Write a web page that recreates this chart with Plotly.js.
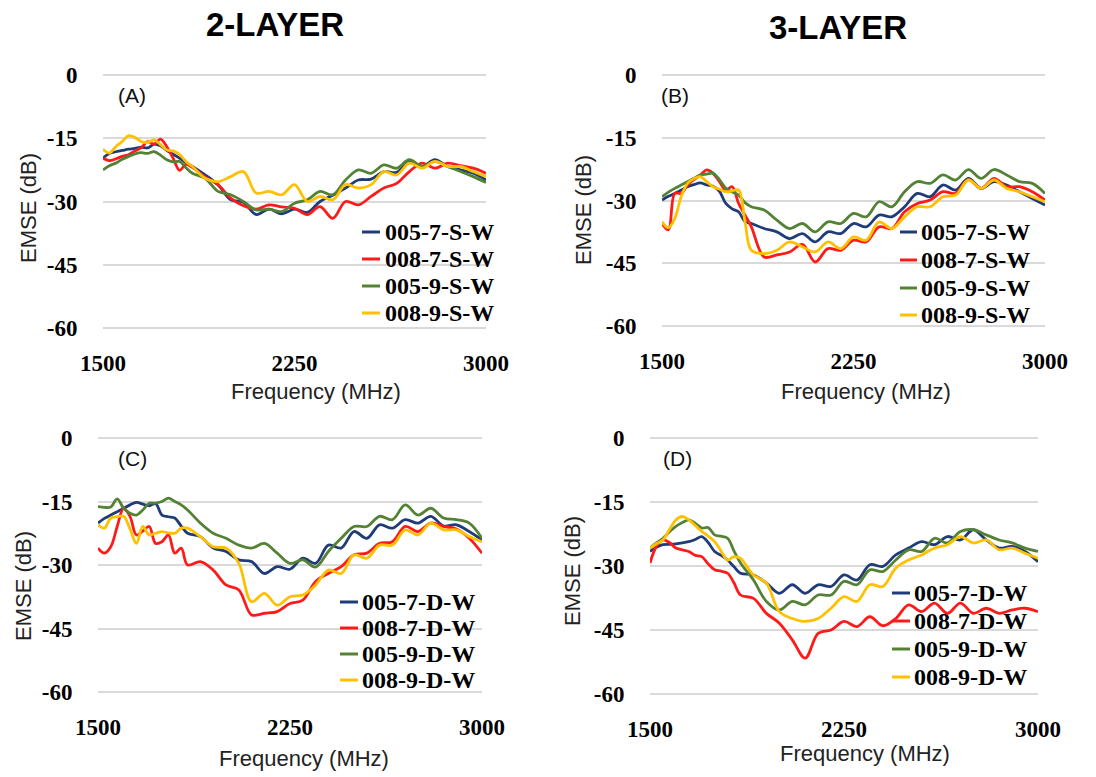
<!DOCTYPE html>
<html><head><meta charset="utf-8">
<script src="https://cdn.plot.ly/plotly-3.0.1.min.js"></script>
<style>html,body{margin:0;padding:0;background:#fff}</style>
</head><body><div id="chart" style="width:1096px;height:777px"></div>
<script>
// Frequency grid (MHz)
const FREQ = [1500,1525,1550,1575,1600,1625,1650,1675,1700,1725,1750,1775,1800,1825,1850,1900,1950,2000,2050,2100,2150,2200,2250,2300,2350,2400,2450,2500,2550,2600,2650,2700,2750,2800,2850,2900,2950,3000];

// Legend names
const NAMES_S = ['005-7-S-W','008-7-S-W','005-9-S-W','008-9-S-W'];
const NAMES_D = ['005-7-D-W','008-7-D-W','005-9-D-W','008-9-D-W'];
const PANEL_LABELS = ['(A)','(B)','(C)','(D)'];
const HEADERS = ['2-LAYER','3-LAYER'];
const X_TICKS = [1500,2250,3000];
const Y_TICKS = [0,-15,-30,-45,-60];

// (A) 2-layer, S-W  (EMSE dB)
const A_005_7 = [-19.7,-18.6,-18.2,-17.9,-17.6,-17.4,-17.1,-17.3,-16.4,-16.8,-17.9,-18.8,-19.7,-20.8,-21.7,-23.7,-26.0,-29.6,-30.2,-33.1,-31.8,-32.9,-31.8,-32.6,-30.0,-28.5,-26.8,-24.9,-24.7,-22.9,-23.1,-20.5,-21.7,-20.1,-21.7,-22.5,-23.3,-24.9];
const A_008_7 = [-19.7,-20.3,-19.9,-19.3,-18.9,-18.0,-17.2,-15.8,-16.4,-15.2,-17.0,-19.8,-22.6,-21.2,-21.9,-24.2,-26.0,-29.2,-31.0,-31.8,-30.8,-31.3,-31.6,-33.1,-31.2,-34.0,-30.0,-30.8,-28.8,-26.8,-25.7,-22.9,-20.9,-22.1,-20.9,-21.5,-22.1,-23.3];
const A_005_9 = [-22.5,-21.5,-20.9,-20.0,-19.3,-18.7,-18.4,-18.6,-18.2,-19.0,-20.1,-20.6,-20.5,-22.0,-23.3,-24.5,-27.6,-28.4,-30.0,-32.0,-31.8,-32.4,-30.4,-29.6,-27.6,-28.4,-24.9,-22.5,-23.3,-21.3,-22.1,-20.1,-21.7,-20.5,-21.7,-22.9,-24.1,-25.5];
const A_008_9 = [-17.6,-18.5,-17.0,-15.8,-14.4,-14.8,-15.8,-16.0,-15.4,-16.5,-17.8,-18.0,-18.9,-20.5,-21.7,-24.5,-25.3,-24.1,-22.9,-28.0,-27.6,-28.4,-26.0,-30.0,-28.8,-29.6,-26.0,-26.8,-26.0,-22.9,-23.7,-20.9,-22.1,-20.5,-21.7,-21.7,-22.9,-24.1];

// (B) 3-layer, S-W
const B_005_7 = [-29.9,-29.0,-28.3,-27.5,-26.7,-26.2,-25.8,-26.3,-26.6,-27.8,-30.7,-32.0,-32.7,-35.0,-35.5,-36.7,-37.5,-39.1,-37.9,-39.9,-37.5,-37.9,-35.5,-36.3,-33.5,-33.9,-31.5,-28.3,-29.1,-26.3,-27.5,-24.7,-27.1,-25.5,-26.3,-27.9,-29.5,-31.1];
const B_008_7 = [-35.5,-37.0,-28.3,-28.3,-26.3,-25.0,-23.9,-22.7,-23.5,-25.5,-27.5,-26.7,-30.7,-33.5,-36.3,-43.5,-43.0,-42.3,-40.5,-44.7,-41.5,-41.9,-39.5,-39.9,-36.3,-36.7,-32.7,-30.7,-29.9,-27.9,-28.3,-25.0,-27.1,-24.7,-26.7,-26.7,-27.9,-29.9];
const B_005_9 = [-29.1,-28.0,-27.1,-26.3,-25.5,-24.7,-23.9,-23.7,-23.5,-25.0,-27.1,-28.0,-28.7,-30.5,-31.5,-32.3,-34.7,-36.7,-35.5,-37.5,-35.1,-35.5,-33.1,-33.9,-30.3,-31.5,-27.9,-25.5,-25.9,-23.9,-25.1,-22.6,-24.7,-22.6,-23.9,-25.5,-25.9,-28.3];
const B_008_9 = [-35.1,-36.5,-34.3,-29.1,-25.9,-24.8,-24.3,-25.5,-26.7,-27.3,-27.9,-27.7,-27.5,-35.0,-41.9,-42.7,-41.9,-39.9,-41.1,-42.3,-39.9,-41.5,-38.7,-39.5,-35.1,-36.7,-33.9,-31.5,-31.5,-29.1,-28.7,-25.1,-27.1,-25.1,-27.1,-27.9,-29.1,-30.3];

// (C) 2-layer, D-W
const C_005_7 = [-20.1,-19.0,-18.2,-17.4,-16.6,-15.8,-15.2,-15.6,-16.0,-15.5,-18.2,-18.6,-18.9,-20.8,-22.5,-23.3,-26.0,-26.8,-28.8,-29.2,-32.0,-30.4,-31.0,-28.4,-29.6,-25.3,-26.0,-22.1,-23.7,-20.5,-21.3,-19.3,-20.1,-18.5,-20.8,-20.5,-22.1,-24.1];
const C_008_7 = [-26.0,-27.2,-25.7,-20.9,-16.6,-18.5,-22.9,-22.0,-20.9,-24.9,-24.5,-22.9,-27.2,-26.0,-30.0,-29.2,-31.2,-34.7,-35.9,-41.8,-41.4,-41.0,-39.1,-38.3,-33.9,-32.0,-30.4,-27.6,-27.2,-24.9,-24.5,-20.9,-22.1,-20.1,-20.9,-21.5,-23.7,-27.2];
const C_005_9 = [-16.2,-16.4,-16.3,-14.4,-16.6,-17.8,-18.2,-17.0,-15.4,-15.4,-15.0,-14.2,-15.0,-15.8,-17.0,-20.1,-22.5,-23.7,-25.3,-26.0,-24.9,-27.2,-29.6,-28.8,-30.5,-26.8,-23.7,-20.9,-20.9,-18.5,-19.3,-15.8,-18.2,-16.6,-18.9,-19.3,-20.1,-23.7];
const C_008_9 = [-20.5,-21.3,-18.9,-18.6,-18.5,-21.5,-24.9,-20.9,-22.9,-22.5,-22.1,-22.4,-22.5,-21.3,-21.3,-23.3,-25.7,-26.0,-29.6,-38.7,-36.7,-39.5,-37.5,-37.1,-34.7,-31.2,-32.0,-27.6,-28.4,-25.3,-25.3,-21.7,-22.9,-20.1,-21.7,-21.7,-23.3,-24.5];

// (D) 3-layer, D-W
const D_005_7 = [-26.6,-25.6,-25.0,-24.9,-24.8,-24.6,-24.3,-23.8,-23.1,-24.5,-26.6,-27.5,-28.6,-30.2,-31.7,-32.1,-34.0,-36.4,-34.4,-36.4,-34.4,-34.8,-32.1,-33.3,-29.7,-30.1,-27.4,-25.8,-24.3,-25.0,-23.1,-23.9,-21.5,-23.9,-25.8,-25.4,-26.6,-29.0];
const D_008_7 = [-29.3,-25.4,-23.9,-24.5,-25.8,-26.2,-26.6,-27.5,-27.8,-29.5,-30.9,-31.2,-31.7,-34.0,-36.8,-37.6,-41.1,-43.4,-47.3,-51.6,-45.8,-45.0,-43.0,-44.2,-41.9,-44.0,-42.3,-39.1,-40.7,-38.7,-41.1,-38.7,-41.1,-39.9,-41.1,-40.3,-39.9,-40.7];
const D_005_9 = [-25.8,-24.6,-23.5,-22.0,-20.7,-19.8,-19.2,-20.0,-21.1,-21.0,-22.7,-23.0,-23.5,-26.5,-29.3,-33.3,-38.3,-40.3,-38.3,-39.1,-36.8,-36.8,-33.6,-34.4,-30.9,-31.3,-28.6,-26.2,-26.6,-23.5,-24.6,-21.9,-21.5,-22.7,-23.9,-24.6,-25.8,-26.6];
const D_008_9 = [-25.8,-24.8,-23.9,-21.5,-19.2,-18.4,-19.2,-20.5,-21.9,-23.0,-24.3,-26.5,-28.6,-27.8,-28.2,-32.1,-34.0,-40.7,-42.3,-43.0,-42.3,-39.9,-37.2,-38.3,-34.4,-34.8,-30.5,-28.6,-27.4,-25.8,-25.0,-23.1,-24.6,-23.9,-26.2,-25.8,-27.0,-28.2];

const COLORS = ['#1f3c78','#ff1a1a','#548235','#ffc000'];

const W = 1096, H = 777;
const px = x => x / W;
const py = y => 1 - y / H;

// Layout geometry (pixels) for each panel
const panels = [
  {series:[A_005_7,A_008_7,A_005_9,A_008_9], names:NAMES_S, left:103, right:486, top:75, bottom:328,
   lab:[132,95], xt:[316,392], yt:[28,208], legX:[362,380,383], legY:[232,259,286,313]},
  {series:[B_005_7,B_008_7,B_005_9,B_008_9], names:NAMES_S, left:662, right:1045, top:75, bottom:326,
   lab:[675,95], xt:[866,392], yt:[583,210], legX:[900,917,919], legY:[232,260,288,315]},
  {series:[C_005_7,C_008_7,C_005_9,C_008_9], names:NAMES_D, left:98, right:482, top:438, bottom:692,
   lab:[132,458], xt:[304,758], yt:[23,586], legX:[340,358,360], legY:[602,628,654,680]},
  {series:[D_005_7,D_008_7,D_005_9,D_008_9], names:NAMES_D, left:650, right:1038, top:438, bottom:694,
   lab:[677,458], xt:[865,753], yt:[572,571], legX:[892,910,912], legY:[593,621,649,677]}
];

const traces = [];
const layout = {
  width: W, height: H, autosize: false,
  margin: {l:0, r:0, t:0, b:0},
  paper_bgcolor: '#fff', plot_bgcolor: '#fff',
  showlegend: false,
  annotations: [], shapes: []
};

const TICKFONT = {family: 'Liberation Serif, Times New Roman, serif', size: 23, color: '#000', weight: 'bold'};
const PAD = 0.6;
panels.forEach((p, i) => {
  const s = i === 0 ? '' : String(i + 1);
  p.series.forEach((vals, k) => {
    traces.push({
      type: 'scatter', mode: 'lines', x: FREQ, y: vals, name: p.names[k],
      xaxis: 'x' + s, yaxis: 'y' + s,
      line: {color: COLORS[k], width: 2.8, shape: 'spline', smoothing: 1},
      hoverinfo: 'x+y+name'
    });
  });
  const ppd = (p.bottom - p.top) / 60;
  layout['xaxis' + s] = {
    domain: [px(p.left), px(p.right)], range: [1500, 3000], anchor: 'y' + s,
    tickvals: X_TICKS, ticktext: X_TICKS.map(v => '<b>' + v + '</b>'),
    ticks: 'outside', ticklen: 12, tickcolor: 'rgba(0,0,0,0)',
    showgrid: false, zeroline: false, showline: false, tickfont: TICKFONT
  };
  layout['yaxis' + s] = {
    domain: [py(p.bottom + PAD * ppd), py(p.top - PAD * ppd)], range: [-60 - PAD, PAD], anchor: 'x' + s,
    tickvals: Y_TICKS, ticktext: Y_TICKS.map(v => '<b>' + v + '</b>'),
    ticks: 'outside', ticklen: 20, tickcolor: 'rgba(0,0,0,0)',
    showgrid: true, gridcolor: '#d9d9d9', gridwidth: 2, zeroline: false, showline: false, tickfont: TICKFONT
  };
  // panel label
  layout.annotations.push({text: PANEL_LABELS[i], xref: 'paper', yref: 'paper', x: px(p.lab[0]), y: py(p.lab[1]),
    xanchor: 'center', yanchor: 'middle', showarrow: false,
    font: {family: 'Liberation Sans, Arial, sans-serif', size: 21, color: '#111'}});
  // axis titles
  layout.annotations.push({text: 'Frequency (MHz)', xref: 'paper', yref: 'paper', x: px(p.xt[0]), y: py(p.xt[1]),
    xanchor: 'center', yanchor: 'middle', showarrow: false,
    font: {family: 'Liberation Sans, Arial, sans-serif', size: 22, color: '#222'}});
  layout.annotations.push({text: 'EMSE (dB)', xref: 'paper', yref: 'paper', x: px(p.yt[0]), y: py(p.yt[1]),
    xanchor: 'center', yanchor: 'middle', showarrow: false, textangle: -90,
    font: {family: 'Liberation Sans, Arial, sans-serif', size: 22, color: '#222'}});
  // legend entries
  p.names.forEach((nm, k) => {
    const yy = p.legY[k];
    layout.shapes.push({type: 'line', xref: 'paper', yref: 'paper', x0: px(p.legX[0]), x1: px(p.legX[1]),
      y0: py(yy), y1: py(yy), line: {color: COLORS[k], width: 3}});
    layout.annotations.push({text: '<b>' + nm + '</b>', xref: 'paper', yref: 'paper', x: px(p.legX[2]), y: py(yy),
      xanchor: 'left', yanchor: 'middle', showarrow: false,
      font: {family: 'Liberation Serif, Times New Roman, serif', size: 24, color: '#000', weight: 'bold'}});
  });
});

// Column headers
[[275, 25], [838, 27]].forEach((c, j) => {
  layout.annotations.push({text: '<b>' + HEADERS[j] + '</b>', xref: 'paper', yref: 'paper', x: px(c[0]), y: py(c[1]),
    xanchor: 'center', yanchor: 'middle', showarrow: false,
    font: {family: 'Liberation Sans, Arial, sans-serif', size: 33, color: '#000', weight: 'bold'}});
});

Plotly.newPlot('chart', traces, layout, {displayModeBar: false, staticPlot: true});
</script></body></html>
